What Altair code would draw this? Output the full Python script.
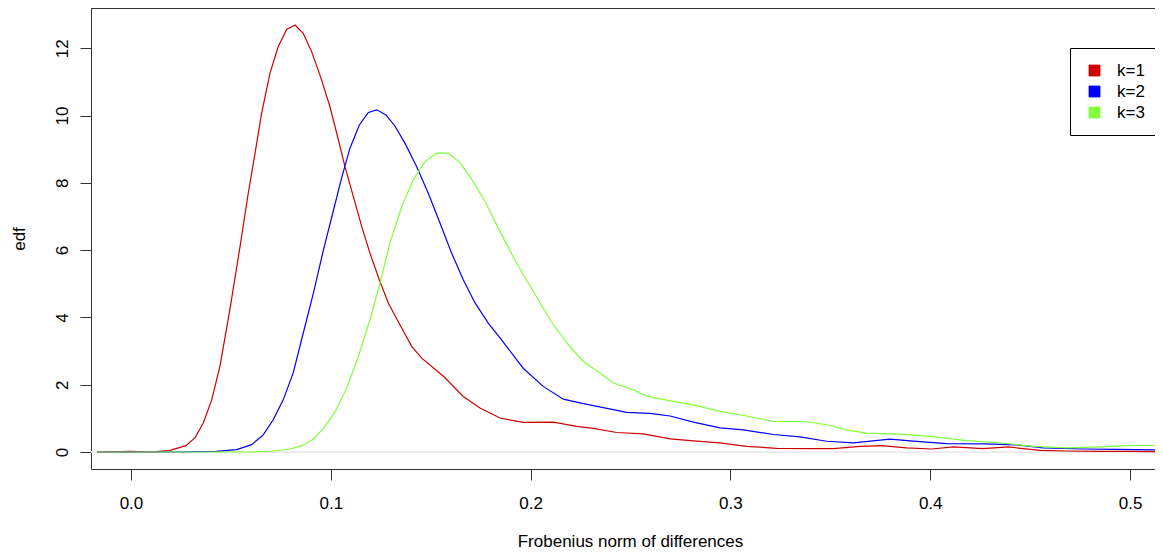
import altair as alt
import pandas as pd

# ---- data ----
series_names = ["k=1", "k=2", "k=3"]
series_colors = ["#D00000", "#0000FF", "#80FF3A"]

x_k1 = [-0.017, 0.0, 0.01, 0.0195, 0.0275, 0.032, 0.0362, 0.0404, 0.0445, 0.0495,
        0.0546, 0.0587, 0.0621, 0.0654, 0.0696, 0.0737, 0.0779, 0.0821, 0.0862, 0.0904,
        0.0946, 0.0996, 0.1038, 0.1071, 0.1113, 0.1155, 0.1196, 0.1246, 0.1288, 0.1346,
        0.1405, 0.1455, 0.1564, 0.1663, 0.1747, 0.1847, 0.1963, 0.2114, 0.2231, 0.2314,
        0.2431, 0.2564, 0.2698, 0.2815, 0.2948, 0.3081, 0.3232, 0.3415, 0.3515, 0.3649,
        0.3757, 0.3882, 0.4007, 0.4116, 0.4266, 0.4391, 0.455, 0.4683, 0.485, 0.501, 0.52]
y_k1 = [0.0, 0.02, 0.0, 0.05, 0.19, 0.42, 0.86, 1.55, 2.54, 4.23,
        6.11, 7.69, 8.88, 10.07, 11.26, 12.05, 12.56, 12.69, 12.44, 11.9,
        11.2, 10.26, 9.28, 8.48, 7.59, 6.70, 5.91, 5.07, 4.43, 3.78,
        3.14, 2.79, 2.25, 1.65, 1.31, 1.01, 0.88, 0.89, 0.76, 0.70,
        0.58, 0.54, 0.39, 0.33, 0.27, 0.17, 0.11, 0.10, 0.10, 0.17,
        0.19, 0.12, 0.09, 0.15, 0.10, 0.15, 0.05, 0.03, 0.02, 0.02, 0.01]

x_k2 = [-0.017, 0.02, 0.0429, 0.0529, 0.0604, 0.0662, 0.0712, 0.0762, 0.0812, 0.0862,
        0.0913, 0.0963, 0.1013, 0.1054, 0.1096, 0.1143, 0.1188, 0.123, 0.1276, 0.1321,
        0.1371, 0.143, 0.1488, 0.1547, 0.1605, 0.1663, 0.1722, 0.1788, 0.1847, 0.1963,
        0.2063, 0.2164, 0.2247, 0.2314, 0.2481, 0.2597, 0.2698, 0.2815, 0.2948, 0.3065,
        0.3215, 0.3348, 0.3482, 0.3615, 0.3799, 0.3899, 0.4083, 0.4266, 0.4433, 0.4566,
        0.4766, 0.4933, 0.52]
y_k2 = [0.0, 0.0, 0.02, 0.07, 0.22, 0.51, 0.96, 1.55, 2.35, 3.53,
        4.72, 6.0, 7.17, 8.14, 9.03, 9.72, 10.09, 10.17, 10.02, 9.69,
        9.18, 8.48, 7.69, 6.80, 5.91, 5.12, 4.43, 3.83, 3.39, 2.49,
        1.95, 1.57, 1.46, 1.38, 1.18, 1.15, 1.07, 0.89, 0.72, 0.66,
        0.52, 0.45, 0.32, 0.27, 0.38, 0.33, 0.25, 0.24, 0.21, 0.12,
        0.09, 0.08, 0.06]

x_k3 = [-0.017, 0.0596, 0.0712, 0.0796, 0.0854, 0.0912, 0.0963, 0.1021, 0.108, 0.1138,
        0.1196, 0.1246, 0.1296, 0.1355, 0.1413, 0.1471, 0.153, 0.1588, 0.1645, 0.1700,
        0.1771, 0.1847, 0.193, 0.2014, 0.2097, 0.2181, 0.2264, 0.2347, 0.2414, 0.2514,
        0.2581, 0.2681, 0.2815, 0.2948, 0.3081, 0.3215, 0.3382, 0.3482, 0.3582, 0.3682,
        0.3849, 0.4016, 0.4183, 0.4349, 0.4516, 0.4683, 0.485, 0.5017, 0.52]
y_k3 = [0.0, 0.0, 0.03, 0.09, 0.18, 0.38, 0.70, 1.19, 1.90, 2.84,
        3.93, 5.02, 6.21, 7.29, 8.09, 8.63, 8.88, 8.88, 8.61, 8.16,
        7.46, 6.55, 5.61, 4.77, 3.93, 3.24, 2.69, 2.35, 2.05, 1.85,
        1.66, 1.54, 1.40, 1.21, 1.07, 0.91, 0.90, 0.81, 0.66, 0.56,
        0.53, 0.46, 0.34, 0.27, 0.17, 0.12, 0.15, 0.20, 0.19]

x_ticks = [0.0, 0.1, 0.2, 0.3, 0.4, 0.5]
y_ticks = [0, 2, 4, 6, 8, 10, 12]

rows = []
for name, xs, ys in zip(series_names, [x_k1, x_k2, x_k3], [y_k1, y_k2, y_k3]):
    for i, (a, b) in enumerate(zip(xs, ys)):
        rows.append({"series": name, "x": a, "y": b, "order": i})
df = pd.DataFrame(rows)

FONT = "Liberation Sans"
W, H = 1064, 461
FRAME = "#333333"

xscale = alt.Scale(domain=[-0.02, 0.5125], nice=False, zero=False)
yscale = alt.Scale(domain=[-0.505, 13.196], nice=False, zero=False)
cscale = alt.Scale(domain=series_names, range=series_colors)

xaxis = alt.Axis(values=x_ticks, format=".1f", grid=False, title="Frobenius norm of differences",
                 domainColor=FRAME, tickColor=FRAME, tickSize=11, labelFlush=False, labelOverlap=False,
                 labelFont=FONT, labelFontSize=17, labelColor="black", labelPadding=15,
                 titleFont=FONT, titleFontSize=17, titleFontWeight="normal", titleColor="black",
                 titleX=539, titleY=77, titleBaseline="alphabetic", titleAlign="center")
yaxis = alt.Axis(values=y_ticks, format="d", grid=False, title="edf",
                 domainColor=FRAME, tickColor=FRAME, tickSize=11, labelOverlap=False,
                 labelFont=FONT, labelFontSize=17, labelColor="black", labelPadding=13,
                 labelAngle=270, labelAlign="center", labelBaseline="alphabetic",
                 titleFont=FONT, titleFontSize=17, titleFontWeight="normal", titleColor="black",
                 titleAngle=270, titleX=-67, titleY=H / 2, titleAlign="center",
                 titleBaseline="alphabetic")

legend = alt.Legend(orient="none", legendX=979, legendY=40, title=None,
                    symbolType="square", symbolSize=121, symbolOffset=2, labelOffset=14,
                    labelFont=FONT, labelFontSize=17, labelColor="black", labelBaseline="middle",
                    padding=14, rowPadding=3, strokeColor="black", fillColor="white",
                    symbolStrokeColor="black", symbolStrokeWidth=0.8, symbolOpacity=1)

# filled square layer (draws nothing) so the legend shows filled, outlined boxes
legend_layer = alt.Chart(df).transform_filter("false").mark_square(
    filled=True, size=121, stroke="black", strokeWidth=0.8).encode(
    color=alt.Color("series:N", scale=cscale, legend=legend))

zero_line = alt.Chart(df).mark_rule(color="#ececec", strokeWidth=1).encode(
    y=alt.datum(0, scale=yscale))

lines = alt.Chart(df).mark_line(strokeWidth=1.2, clip=True).encode(
    x=alt.X("x:Q", scale=xscale, axis=xaxis),
    y=alt.Y("y:Q", scale=yscale, axis=yaxis),
    color=alt.Color("series:N", scale=cscale, legend=legend),
    order="order:Q",
)

top_border = alt.Chart(df).mark_rule(color=FRAME, strokeWidth=1).encode(
    x=alt.value(0), x2=alt.value(W), y=alt.value(0))

chart = alt.layer(legend_layer, zero_line, lines, top_border).properties(
    width=W, height=H,
    autosize=alt.AutoSizeParams(type="none"),
    padding={"left": 83, "top": 0, "right": 0, "bottom": 80},
    background="white",
).configure_view(stroke=None)

chart.save("out.html", embed_options={"renderer": "svg", "actions": False})
